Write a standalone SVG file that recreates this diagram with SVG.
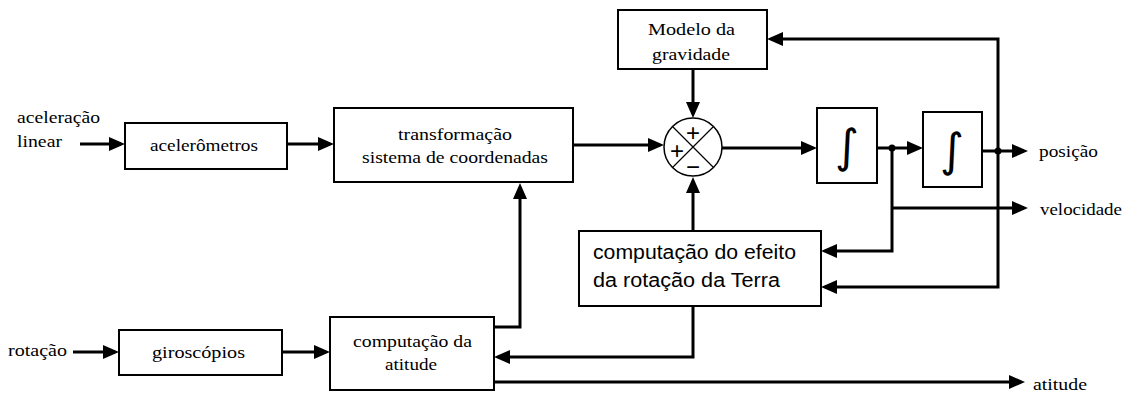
<svg xmlns="http://www.w3.org/2000/svg" width="1128" height="394" viewBox="0 0 1128 394">
<style>
.box{fill:#fff;stroke:#000;stroke-width:2}
.ln{fill:none;stroke:#000;stroke-width:3;marker-end:url(#ah)}
.t{font-family:"Liberation Serif","Times New Roman",serif;font-size:17px;fill:#000}
.s{font-family:"Liberation Sans",Arial,sans-serif;font-size:20px;fill:#000}
.int{font-family:"DejaVu Sans",sans-serif;font-size:46px;fill:#000;text-anchor:middle}
.sg{font-family:"Liberation Sans",Arial,sans-serif;font-size:24px;fill:#000;text-anchor:middle}
</style>
<defs>
<marker id="ah" viewBox="0 0 16 14" refX="12" refY="7" markerWidth="16" markerHeight="14" markerUnits="userSpaceOnUse" orient="auto">
<path d="M0,0 L16,7 L0,14 Z" fill="#000"/>
</marker>
</defs>
<rect width="1128" height="394" fill="#fff"/>
<g id="connectors">
<path class="ln" d="M80,144 H121"/>
<path class="ln" d="M287,144 H330"/>
<path class="ln" d="M573,145 H660"/>
<path class="ln" d="M693,69 V114"/>
<path class="ln" d="M998,151 V39 H771"/>
<path class="ln" d="M722,148 H813"/>
<path class="ln" d="M877,148 H919"/>
<path class="ln" d="M982,151 H1024"/>
<path class="ln" d="M892,148 V251 H825"/>
<path class="ln" d="M892,208 H1024"/>
<path class="ln" d="M998,151 V287 H825"/>
<path class="ln" d="M693,231 V181"/>
<path class="ln" d="M693,306 V357 H498"/>
<path class="ln" d="M494,327 H520 V187"/>
<path class="ln" d="M494,382 H1021"/>
<path class="ln" d="M73,352 H115"/>
<path class="ln" d="M282,352 H326"/>
<circle cx="892" cy="148" r="3.5" fill="#000"/>
<circle cx="998" cy="151" r="3.5" fill="#000"/>
</g>
<g id="acelerometros">
<rect class="box" x="125" y="123" width="162" height="46"/>
<text class="t" x="150" y="151" textLength="108" lengthAdjust="spacingAndGlyphs">acelerômetros</text>
</g>
<g id="transformacao">
<rect class="box" x="334" y="108" width="239" height="74"/>
<text class="t" x="398" y="140" textLength="114" lengthAdjust="spacingAndGlyphs">transformação</text>
<text class="t" x="362" y="163" textLength="186" lengthAdjust="spacingAndGlyphs">sistema de coordenadas</text>
</g>
<g id="modelo">
<rect class="box" x="618" y="10" width="149" height="59"/>
<text class="t" x="648" y="35" textLength="87" lengthAdjust="spacingAndGlyphs">Modelo da</text>
<text class="t" x="652" y="60" textLength="78" lengthAdjust="spacingAndGlyphs">gravidade</text>
</g>
<g id="soma">
<circle cx="693" cy="147" r="29" fill="#fff" stroke="#000" stroke-width="1.5"/>
<path d="M672.5,126.5 L713.5,167.5 M713.5,126.5 L672.5,167.5" stroke="#000" stroke-width="1.2" fill="none"/>
<text class="sg" x="693" y="141">+</text>
<text class="sg" x="677" y="159">+</text>
<text class="sg" x="693" y="175">−</text>
</g>
<g id="integrador1">
<rect class="box" x="817" y="108" width="60" height="75"/>
<text class="int" x="847" y="162">∫</text>
</g>
<g id="integrador2">
<rect class="box" x="923" y="112" width="59" height="75"/>
<text class="int" x="952" y="166">∫</text>
</g>
<g id="terra">
<rect class="box" x="579" y="231" width="242" height="75"/>
<text class="s" x="593" y="259" textLength="203" lengthAdjust="spacingAndGlyphs">computação do efeito</text>
<text class="s" x="593" y="287" textLength="187" lengthAdjust="spacingAndGlyphs">da rotação da Terra</text>
</g>
<g id="atitude">
<rect class="box" x="330" y="317" width="164" height="73"/>
<text class="t" x="353" y="347" textLength="119" lengthAdjust="spacingAndGlyphs">computação da</text>
<text class="t" x="385" y="370" textLength="52" lengthAdjust="spacingAndGlyphs">atitude</text>
</g>
<g id="giroscopios">
<rect class="box" x="119" y="330" width="163" height="45"/>
<text class="t" x="152" y="358" textLength="93" lengthAdjust="spacingAndGlyphs">giroscópios</text>
</g>
<g id="labels">
<text class="t" x="17" y="123" textLength="83" lengthAdjust="spacingAndGlyphs">aceleração</text>
<text class="t" x="17" y="147" textLength="45" lengthAdjust="spacingAndGlyphs">linear</text>
<text class="t" x="8" y="356" textLength="59" lengthAdjust="spacingAndGlyphs">rotação</text>
<text class="t" x="1039" y="157" textLength="59" lengthAdjust="spacingAndGlyphs">posição</text>
<text class="t" x="1040" y="215" textLength="82" lengthAdjust="spacingAndGlyphs">velocidade</text>
<text class="t" x="1033" y="390" textLength="54" lengthAdjust="spacingAndGlyphs">atitude</text>
</g>
</svg>
